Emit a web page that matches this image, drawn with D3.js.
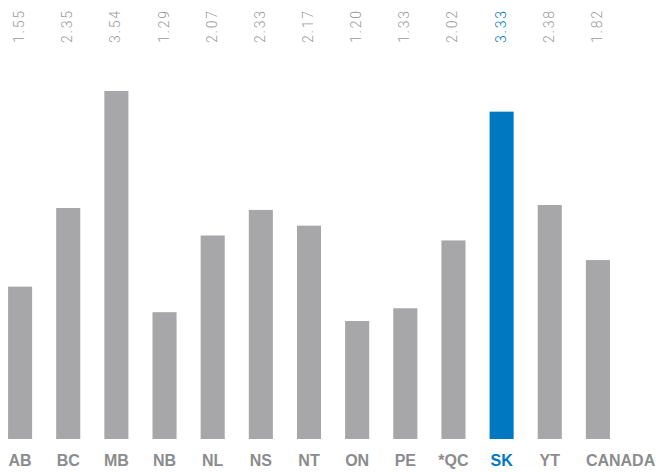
<!DOCTYPE html>
<html>
<head>
<meta charset="utf-8">
<script src="https://cdn.jsdelivr.net/npm/d3@7"></script>
<style>
  body { margin: 0; background: #fff; }
  svg { display: block; }
  .valor { font-family: Roboto, sans-serif; font-weight: 300; font-size: 14px; letter-spacing: 1.8px; fill: #9a9a9c; }
  .cat { font-family: "Liberation Sans", Arial, sans-serif; font-weight: bold; font-size: 16px; fill: #8c8c8e; }
</style>
</head>
<body>
<div id="graf"></div>
<script>
const ancho = 659
const alto = 472

// datos
const provincias = ['AB', 'BC', 'MB', 'NB', 'NL', 'NS', 'NT', 'ON', 'PE', '*QC', 'SK', 'YT', 'CANADA']
const valores = [1.55, 2.35, 3.54, 1.29, 2.07, 2.33, 2.17, 1.20, 1.33, 2.02, 3.33, 2.38, 1.82]
const destacado = 'SK'

const gris = '#a7a7aa'
const azul = '#0077c1'

const svg = d3.select('#graf')
  .append('svg')
  .attr('width', ancho)
  .attr('height', alto)

const x = d3.scaleBand()
  .domain(provincias)
  .range([-4, 622])
  .paddingInner(0.5)
  .paddingOuter(0.25)

const y = d3.scaleLinear()
  .domain([0, d3.max(valores)])
  .range([439, 91])

const data = provincias.map((p, i) => ({ p: p, v: valores[i] }))

svg.selectAll('rect')
  .data(data)
  .enter()
  .append('rect')
    .attr('x', d => x(d.p))
    .attr('y', d => y(d.v))
    .attr('width', x.bandwidth())
    .attr('height', d => y(0) - y(d.v))
    .attr('fill', d => d.p === destacado ? azul : gris)

// etiquetas de valor, giradas
svg.selectAll('.valor')
  .data(data)
  .enter()
  .append('text')
    .attr('class', 'valor')
    .attr('transform', d => `translate(${x(d.p) + x.bandwidth() / 2 + 4}, 43) rotate(-90)`)
    .attr('text-anchor', 'start')
    .style('fill', d => d.p === destacado ? azul : null)
    .text(d => d.v.toFixed(2))

// etiquetas de categoria
svg.selectAll('.cat')
  .data(data)
  .enter()
  .append('text')
    .attr('class', 'cat')
    .attr('x', d => x(d.p) + x.bandwidth() / 2)
    .attr('y', 466)
    .attr('text-anchor', 'middle')
    .style('fill', d => d.p === destacado ? azul : null)
    .text(d => d.p)
    .each(function (d) {
      // las largas se alinean al borde izquierdo de la barra
      const w = this.getComputedTextLength()
      if (w > x.step()) {
        d3.select(this).attr('x', x(d.p)).attr('text-anchor', 'start')
      }
    })
</script>
</body>
</html>
